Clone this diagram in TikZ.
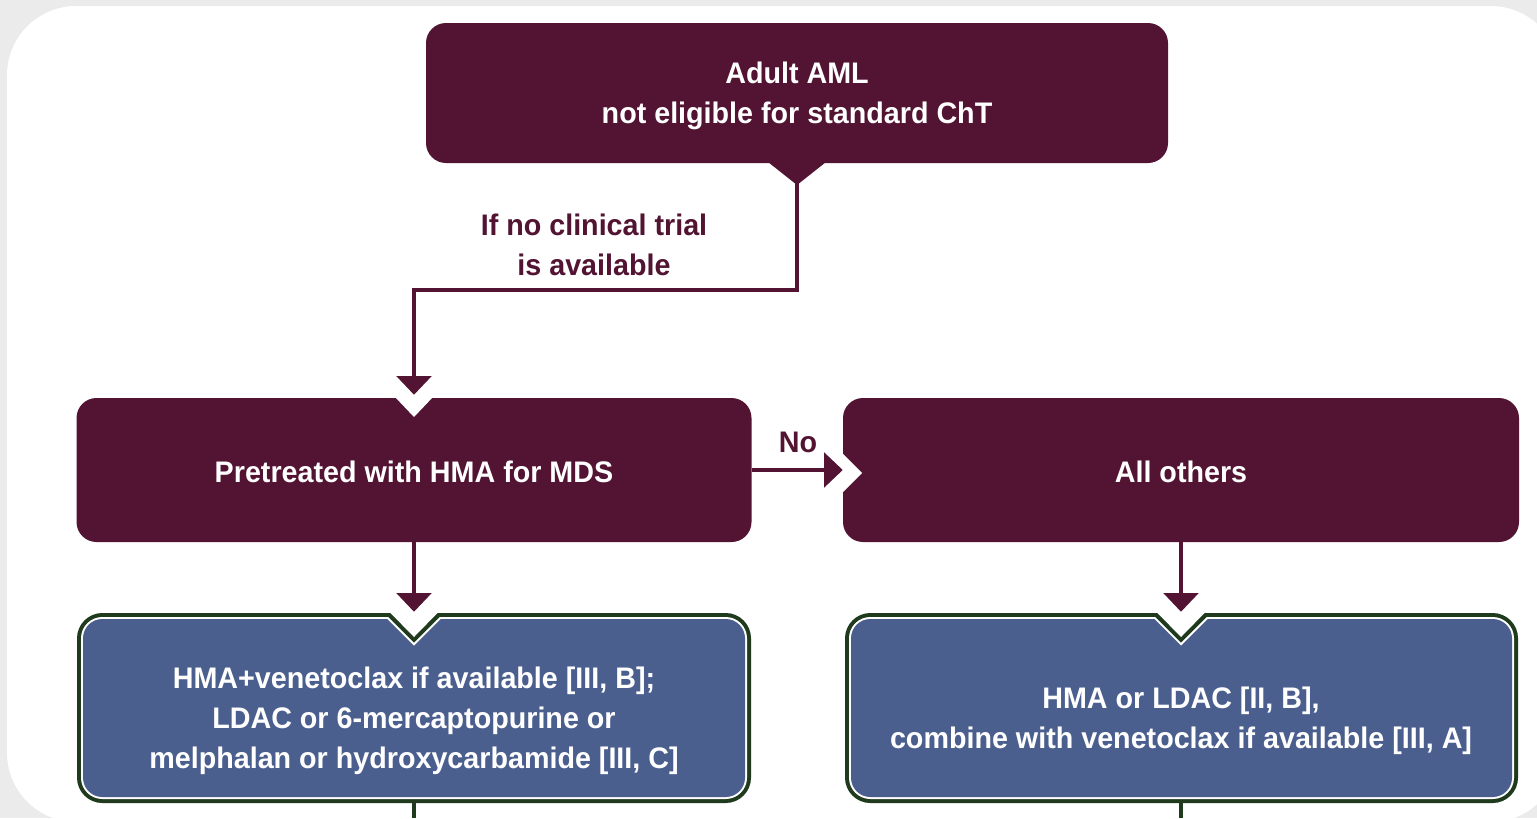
\documentclass[tikz,border=0pt]{standalone}
\usepackage{fontspec}
\setmainfont{Liberation Sans}[FakeStretch=0.965]
\usetikzlibrary{arrows.meta}
\definecolor{maroon}{HTML}{521432}
\definecolor{boxblue}{HTML}{4B5F8E}
\definecolor{boxgreen}{HTML}{1F3A1C}
\definecolor{bggrey}{HTML}{EBEBEB}
\newcommand\notchbox[5]{%
 \fill[boxgreen,rounded corners=19pt] (#1,#2) rectangle (#3,#4);
 \fill[white,rounded corners=16pt] (#1+4,#2+4) rectangle (#3-4,#4-4);
 \fill[boxblue,rounded corners=14.5pt] (#1+6,#2+6) rectangle (#3-6,#4-6);
 \fill[white] (#5-26.5,#2+6) -- (#5,#2+32.5) -- (#5+26.5,#2+6) -- cycle;
 \fill[boxgreen] (#5-25.7,#2+4) -- (#5,#2+29.7) -- (#5+25.7,#2+4) -- cycle;
 \fill[white] (#5-24,#2-0.5) -- (#5,#2+24) -- (#5+24,#2-0.5) -- cycle;
}
\tikzset{
  mainbox/.style={fill=maroon, rounded corners=15pt, inner sep=0pt},
  ghostbox/.style={inner sep=0pt},
  boxtext/.style={text=white, font=\bfseries\fontsize{22.3}{30}\selectfont, align=center, inner sep=0pt},
  labeltext/.style={text=maroon, font=\bfseries\fontsize{22.3}{30}\selectfont, align=center, inner sep=0pt},
  conn/.style={draw=maroon, line width=2.5pt, -{Triangle[width=26pt,length=14pt]}},
  outline/.style={draw=boxgreen, line width=2.5pt}
}
\begin{document}
\begin{tikzpicture}[x=0.75pt,y=-0.75pt]
\useasboundingbox (0,0) rectangle (1537,818);
\fill[bggrey] (0,0) rectangle (1537,818);
\fill[white, rounded corners=52pt] (7,6) rectangle (1560,822);

% main boxes
\node[mainbox, minimum width=556.5pt, minimum height=105pt] (top) at (797,93) {};
\fill[maroon] (768,162) -- (797,185) -- (826,162) -- cycle;
\node[boxtext] (toptext) at (797,96) {Adult AML\\not eligible for standard ChT};

\node[mainbox, minimum width=506.25pt, minimum height=108pt] (left) at (414,470) {};
\fill[white] (395,397) -- (414,417) -- (433,397) -- cycle;
\node[boxtext] (lefttext) at (414,472) {Pretreated with HMA for MDS};

\node[mainbox, minimum width=507pt, minimum height=108pt] (right) at (1181,470) {};
\fill[white] (842,453) -- (862,473) -- (842,493) -- cycle;
\node[boxtext] (righttext) at (1181,472) {All others};

% bottom boxes
\node[ghostbox, minimum width=505.5pt, minimum height=142.5pt] (bl) at (414,708) {};
\notchbox{77}{613}{751}{803}{414}
\node[boxtext] (bltext) at (414,721)
  {HMA+venetoclax if available [III, B];\\LDAC or 6-mercaptopurine or\\melphalan or hydroxycarbamide [III, C]};

\node[ghostbox, minimum width=504.75pt, minimum height=142.5pt] (br) at (1181,708) {};
\notchbox{845}{613}{1518}{803}{1181}
\node[boxtext] (brtext) at (1181,721)
  {HMA or LDAC [II, B],\\combine with venetoclax if available [III, A]};

% connectors
\draw[conn] (top.south) -- (797,290) -| ([yshift=2.25pt]left.north);
\node[labeltext] (cond) at (594,245) {If no clinical trial\\is available};
\draw[conn] (left.east) -- (right.west);
\node[labeltext] (no) at (798,442) {No};
\draw[conn] (left.south) -- ([yshift=0.75pt]bl.north);
\draw[conn] (right.south) -- ([yshift=0.75pt]br.north);

\coordinate (blend) at (414,818);
\coordinate (brend) at (1181,818);
\draw[outline] (bl.south) -- (blend);
\draw[outline] (br.south) -- (brend);
\end{tikzpicture}
\end{document}
